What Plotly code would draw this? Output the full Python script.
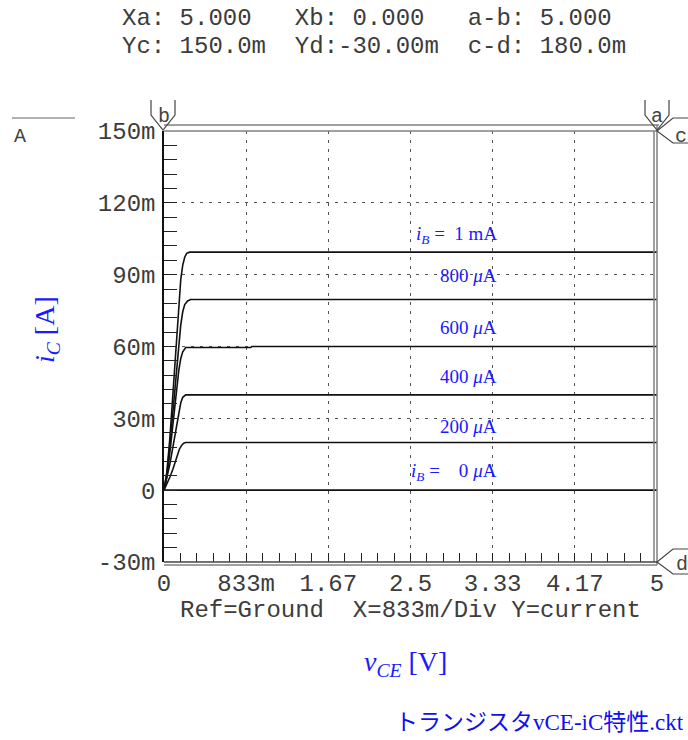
import plotly.graph_objects as go

# ---------------- data ----------------
vce_100 = [0, 0.03, 0.06, 0.09, 0.12, 0.15, 0.17, 0.19, 0.21, 0.23, 0.26, 5.0]
ic_100 = [0, 8.0, 22.0, 40.0, 60.0, 78.0, 88.0, 94.0, 97.3, 98.9, 99.4, 99.4]

vce_80 = [0, 0.03, 0.06, 0.09, 0.12, 0.15, 0.17, 0.19, 0.21, 0.24, 0.27, 5.0]
ic_80 = [0, 7.0, 19.0, 33.0, 48.0, 62.0, 69.0, 74.5, 77.5, 79.0, 79.6, 79.6]

vce_60 = [0, 0.03, 0.06, 0.09, 0.12, 0.15, 0.17, 0.19, 0.22, 0.88, 0.89, 5.0]
ic_60 = [0, 6.0, 16.0, 28.0, 40.0, 50.0, 55.0, 57.8, 59.6, 59.6, 60.0, 60.0]

vce_40 = [0, 0.03, 0.06, 0.09, 0.12, 0.15, 0.17, 0.19, 0.22, 5.0]
ic_40 = [0, 5.0, 11.0, 18.0, 25.5, 32.5, 36.5, 38.8, 39.8, 39.8]

vce_20 = [0, 0.03, 0.06, 0.09, 0.12, 0.155, 0.18, 0.2, 0.22, 5.0]
ic_20 = [0, 2.5, 5.5, 8.7, 12.5, 17.0, 18.8, 19.6, 19.9, 19.9]

vce_0 = [0, 5.0]
ic_0 = [0, 0]

curves = [(vce_100, ic_100), (vce_80, ic_80), (vce_60, ic_60),
          (vce_40, ic_40), (vce_20, ic_20), (vce_0, ic_0)]

x_tickvals = [0, 5 / 6, 10 / 6, 2.5, 20 / 6, 25 / 6, 5]
x_ticktext = ["0", "833m", "1.67", "2.5", "3.33", "4.17", "5"]
y_tickvals = [-0.03, 0, 0.03, 0.06, 0.09, 0.12, 0.15]
y_ticktext = ["-30m", "0", "30m", "60m", "90m", "120m", "150m"]

curve_labels = ["<i>i</i><sub><i>B</i></sub> =  1 mA", "800 <i>μ</i>A", "600 <i>μ</i>A",
                "400 <i>μ</i>A", "200 <i>μ</i>A", "<i>i</i><sub><i>B</i></sub> =    0 <i>μ</i>A"]
label_y = [0.1065, 0.0895, 0.068, 0.0475, 0.0265, 0.0075]
label_x = [3.4, 3.4, 3.4, 3.4, 3.4, 3.4]

# ---------------- layout geometry ----------------
WIDTH, HEIGHT = 688, 740
L, R, T, B = 164, 657, 131, 562
PW, PH = R - L, B - T

MONO = "Liberation Mono, Courier New, monospace"
SERIF = "Liberation Serif, Times New Roman, serif"
BLUE = "#1a1aff"
TXT = "#3c3c3c"


def px(x):
    return (x - L) / PW


def py(y):
    return (B - y) / PH


fig = go.Figure()
for xs, ys in curves:
    fig.add_trace(go.Scatter(x=xs, y=[v / 1000 for v in ys], mode="lines",
                             line=dict(color="#111111", width=1.6),
                             hoverinfo="skip", showlegend=False))

fig.update_layout(
    width=WIDTH, height=HEIGHT,
    margin=dict(l=L, r=WIDTH - R, t=T, b=HEIGHT - B, pad=0),
    paper_bgcolor="white", plot_bgcolor="white",
    showlegend=False,
    xaxis=dict(range=[0, 5], tickmode="array", tickvals=x_tickvals, ticktext=x_ticktext,
               ticks="inside", ticklen=9, tickcolor="#222", tickwidth=1,
               showgrid=True, gridcolor="#555", griddash="3px,6px", gridwidth=1,
               zeroline=False, showline=False,
               tickfont=dict(family=MONO, size=24, color=TXT),
               ticklabelstandoff=4,
               minor=dict(tick0=0, dtick=1 / 6, ticks="inside", ticklen=9,
                          tickcolor="#222", tickwidth=1, showgrid=False)),
    yaxis=dict(range=[-0.03, 0.15], tickmode="array", tickvals=y_tickvals, ticktext=y_ticktext,
               ticks="inside", ticklen=13, tickcolor="#222", tickwidth=1,
               showgrid=True, gridcolor="#555", griddash="3px,6px", gridwidth=1,
               zeroline=False, showline=True, linecolor="#111", linewidth=1.5,
               tickfont=dict(family=MONO, size=24, color=TXT),
               ticklabelstandoff=2,
               minor=dict(tick0=0, dtick=0.006, ticks="inside", ticklen=13,
                          tickcolor="#222", tickwidth=1, showgrid=False)),
)

GRAY = "#808080"
shapes = []


def pline(x0, y0, x1, y1, color=GRAY, width=1.5):
    shapes.append(dict(type="line", xref="paper", yref="paper",
                       x0=px(x0), y0=py(y0), x1=px(x1), y1=py(y1),
                       line=dict(color=color, width=width), layer="above"))


# frame (double lines)
pline(L, T, R, T)
pline(L, T - 6, R + 2, T - 6)
pline(R, T - 6, R, B + 3)
pline(R - 3, T, R - 3, B)
pline(L, B, R, B, color="#444")
pline(L, B + 3, R, B + 3)
# top-left "A" legend line
pline(12, 118, 75, 118, color="#666", width=1.2)


def ppath(points, color="#444"):
    d = "M " + " L ".join(f"{px(a)},{py(b)}" for a, b in points)
    shapes.append(dict(type="path", xref="paper", yref="paper", path=d,
                       line=dict(color=color, width=1.2), layer="above"))


# cursor markers
ppath([(151, 100), (151, 115), (163, 130), (175, 115), (175, 100)])  # b
ppath([(645, 100), (645, 115), (657, 130), (669, 115), (669, 100)])  # a
ppath([(688, 118), (673, 118), (657, 131), (673, 143), (688, 143)])  # c
ppath([(688, 549), (673, 549), (657, 562), (673, 574), (688, 574)])  # d

fig.update_layout(shapes=shapes)

ann = []


def ptext(x, y, text, font, xanchor="left", yanchor="middle", angle=0):
    ann.append(dict(xref="paper", yref="paper", x=px(x), y=py(y), text=text,
                    showarrow=False, xanchor=xanchor, yanchor=yanchor,
                    font=font, textangle=angle))


mono_font = dict(family=MONO, size=24, color=TXT)
ptext(120, 18, "Xa: 5.000   Xb: 0.000   a-b: 5.000", mono_font)
ptext(120, 46, "Yc: 150.0m  Yd:-30.00m  c-d: 180.0m", mono_font)
ptext(12, 136, "A", dict(family=MONO, size=20, color="#444"))
ptext(410, 610, "Ref=Ground  X=833m/Div Y=current", mono_font, xanchor="center")

marker_font = dict(family=MONO, size=20, color="#444")
ptext(164, 117, "b", marker_font, xanchor="center")
ptext(657, 117, "a", marker_font, xanchor="center")
ptext(681, 136, "c", marker_font, xanchor="center")
ptext(682, 564, "d", marker_font, xanchor="center")

# axis titles
ptext(46, 330, "<i>i</i><sub><i>C</i></sub> [A]", dict(family=SERIF, size=28, color=BLUE),
      xanchor="center", angle=-90)
ptext(405, 663, "<i>v</i><sub><i>CE</i></sub> [V]", dict(family=SERIF, size=28, color=BLUE),
      xanchor="center")
ptext(686, 722, "トランジスタvCE-iC特性.ckt",
      dict(family="Liberation Serif, Noto Sans CJK JP", size=23, color="#1010ee"),
      xanchor="right")

for txt, lx, ly in zip(curve_labels, label_x, label_y):
    ann.append(dict(xref="x", yref="y", x=lx, y=ly, text=txt, showarrow=False,
                    xanchor="right", yanchor="middle",
                    font=dict(family=SERIF, size=19, color=BLUE)))

fig.update_layout(annotations=ann)
fig.write_html("out.html")
